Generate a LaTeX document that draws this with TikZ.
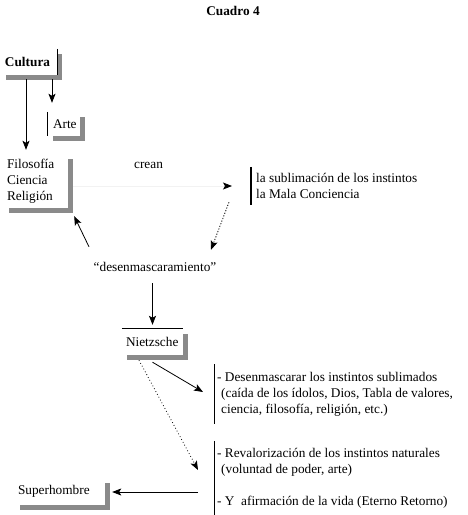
\documentclass[tikz,border=0pt]{standalone}
\usepackage{fontspec}
\setmainfont{Liberation Serif}
\usepackage{tikz}
\usepackage{xcolor}
\usetikzlibrary{
    arrows.meta,
    calc,
    shadows
}
\definecolor{shade}{HTML}{8A8A8A}
\definecolor{faint}{HTML}{F2F2F2}
\definecolor{dark}{HTML}{000000}
\tikzset{
    % Box with a grey shadow on its right and bottom
    shadowbox/.style={
        rectangle,
        fill=white,
        align=left,
        inner ysep=0pt,
        font=\fontsize{13.3}{16}\selectfont,
        drop shadow={shadow xshift=5pt, shadow yshift=-4.5pt, fill=shade, opacity=1}
    },
    % Text with a bar on its left
    bartext/.style={
        rectangle,
        anchor=west,
        align=left,
        inner xsep=3pt,
        inner ysep=0pt,
        font=\fontsize{13.3}{16}\selectfont
    },
    % Plain label
    label text/.style={
        inner sep=0pt,
        text height=9pt,
        text depth=3pt,
        font=\fontsize{13.3}{16}\selectfont
    },
    % Arrow styles
    flow/.style={
        -{Stealth[length=9pt, width=7pt, inset=2pt]},
        line width=0.8pt,
        color=dark
    },
    dotflow/.style={
        flow,
        dash pattern=on 1.2pt off 1.6pt
    },
    ghostflow/.style={
        -{Stealth[length=9pt, width=7pt, inset=2pt, color=dark]},
        line width=0.8pt,
        draw=faint
    }
}

\begin{document}
\begin{tikzpicture}[x=1pt, y=-1pt]
    \useasboundingbox (0,0) rectangle (467,515);

    % Title
    \node[label text, font=\fontsize{13.3}{16}\selectfont\bfseries] (title) at (233,12) {Cuadro 4};

    % Boxes
    \node[shadowbox, font=\fontsize{13.3}{16}\selectfont\bfseries, inner xsep=4pt, text width=48pt, minimum height=26pt] (cultura) at (29,62) {Cultura};
    \node[shadowbox, inner xsep=5pt, text width=22pt, minimum height=24pt] (arte) at (64,124) {Arte};
    \node[shadowbox, inner xsep=3pt, text width=58pt, minimum height=54pt] (filo) at (36,181) {Filosofía\\Ciencia\\Religión};
    \node[shadowbox, inner xsep=4pt, text width=53pt, minimum height=26pt] (nietz) at (152.5,342) {Nietzsche};
    \node[shadowbox, inner xsep=3pt, text width=84pt, minimum height=27pt] (super) at (60,491.5) {Superhombre};

    % Partial borders
    \draw[line width=0.8pt] (cultura.north east) -- (cultura.south east);
    \draw[line width=0.8pt] (arte.north west) -- (arte.south west);
    \draw[line width=0.8pt] (nietz.north west) -- (nietz.north east);

    % Labels
    \node[label text] (crean) at (148.5,165) {crean};
    \node[label text] (desen) at (155,268) {“desenmascaramiento”};

    % Texts with bars
    \node[bartext, inner xsep=5pt, minimum height=38pt] (sublim) at (251,186) {la sublimación de los instintos\\la Mala Conciencia};
    \node[bartext, minimum height=59pt] (desblk) at (214,394) {- Desenmascarar los instintos sublimados\\\hspace*{4pt}(caída de los ídolos, Dios, Tabla de valores,\\\hspace*{4pt}ciencia, filosofía, religión, etc.)};
    \node[bartext, minimum height=74pt] (reval) at (214,478) {- Revalorización de los instintos naturales\\\hspace*{4pt}(voluntad de poder, arte)\\[16pt]- Y\ \ afirmación de la vida (Eterno Retorno)};
    \draw[line width=2pt] (sublim.north west) -- (sublim.south west);
    \draw[line width=0.8pt] (desblk.north west) -- (desblk.south west);
    \draw[line width=0.8pt] (reval.north west) -- (reval.south west);

    % Connections
    \draw[flow] ($(cultura.south)+(23,4)$) -- ($(arte.north)+(-12,-9)$);
    \draw[flow] ($(cultura.south)+(-3,4)$) -- ($(filo.north)+(-10,-4)$);
    \draw[ghostflow] ($(filo.east)+(5,5)$) -- ($(sublim.west)+(-19,0)$);
    \draw[dotflow] ($(sublim.south west)+(-22,-3)$) -- ($(desen.north)+(56,-12)$);
    \draw[flow] ($(desen.north)+(-66,-15)$) -- ($(filo.south east)+(6,8)$);
    \draw[flow] ($(desen.south)+(-2.5,9)$) -- ($(nietz.north)+(0,-4)$);
    \draw[flow] ($(nietz.south)+(0,7)$) -- ($(desblk.west)+(-11,-2)$);
    \draw[dotflow, dash pattern=on 0.8pt off 2.4pt] ($(nietz.south)+(-13.5,5)$) -- ($(reval.west)+(-16,-8)$);
    \draw[flow] ($(reval.west)+(-16,14)$) -- ($(super.east)+(7,0.5)$);

\end{tikzpicture}
\end{document}
